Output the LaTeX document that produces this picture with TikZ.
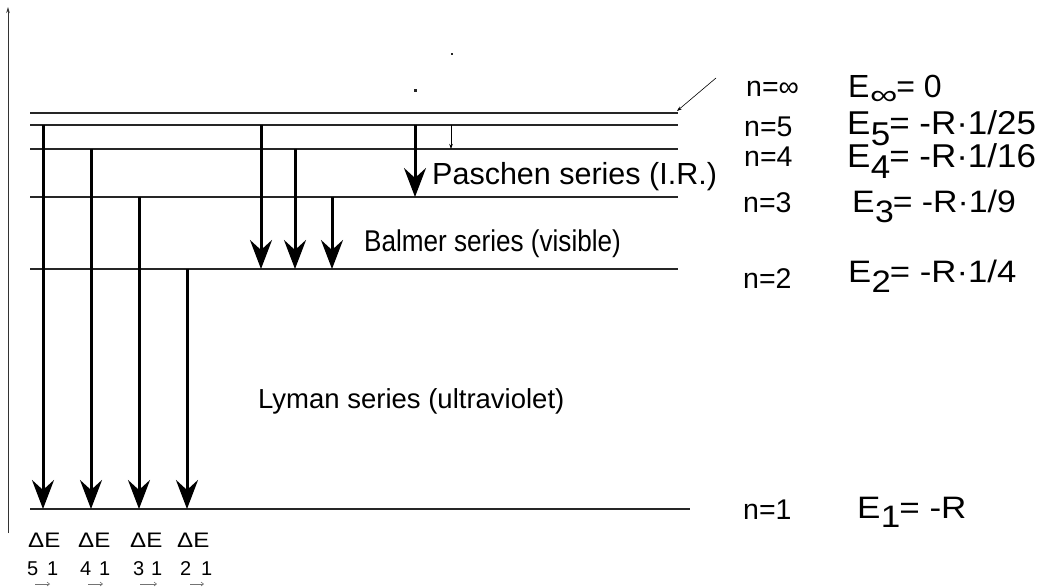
\documentclass[tikz,border=0pt]{standalone}
\usepackage{fontspec}
\setmainfont{Liberation Sans}
\usetikzlibrary{arrows.meta}
\newcommand{\fsz}[1]{\fontsize{#1}{#1}\selectfont}
\newcommand{\Esub}[1]{E\kern0.01em\raisebox{-0.32em}{#1}\kern-0.03em}
\begin{document}
\begin{tikzpicture}[x=1pt,y=-1pt,
  level/.style={line width=1.3pt, black!85},
  bigarrow/.style={line width=3pt, -{Stealth[length=29pt,width=22pt,inset=10pt]}},
  thinarrow/.style={line width=0.6pt, -{Stealth[length=5pt,width=3.5pt]}},
  axisline/.style={line width=0.9pt, black!80, -{Stealth[length=6pt,width=3.5pt]}},
  subarrow/.style={line width=0.6pt, black!55, -{Straight Barb[length=2.5pt,width=4pt]}},
  lbl/.style={anchor=base west, inner sep=0pt},
  series/.style={lbl, font=\fsz{30}},
  nlab/.style={lbl, font=\fsz{28.5}},
  elab/.style={lbl, font=\fsz{31}},
  dlab/.style={lbl, font=\fsz{21}},
  sublab/.style={lbl, font=\fsz{20}},
  dotmark/.style={fill=black!85}]
\useasboundingbox (0,0) rectangle (1042,588);

% vertical energy axis
\coordinate (axbot) at (8,533);
\coordinate (axtop) at (8,7);
\draw[axisline] (axbot) -- (axtop);

% energy levels
\foreach \n/\y/\r in {inf/113/678, 5/125/678, 4/149/678, 3/197/678, 2/269/678, 1/509/690}{
  \coordinate (L\n l) at (30,\y);
  \coordinate (L\n r) at (\r,\y);
  \draw[level] (L\n l) -- (L\n r);
}

% transitions
\foreach \nm/\x/\ys/\ye in {ly5/43/125/509, ly4/91/149/509, ly3/139/197/509, ly2/187/269/509,
                            ba5/261/125/269, ba4/295/149/269, ba3/332/197/269,
                            pa5/415/125/197}{
  \coordinate (\nm s) at (\x,\ys);
  \coordinate (\nm e) at (\x,\ye);
  \draw[bigarrow] (\nm s) -- (\nm e);
}
\coordinate (p54s) at (451,125);
\coordinate (p54e) at (451,149);
\draw[thinarrow] (p54s) -- (p54e);

% pointer to n = infinity level
\coordinate (ptrs) at (716,78);
\coordinate (ptre) at (677,111);
\draw[thinarrow] (ptrs) -- (ptre);

% stray dots
\fill[dotmark] (414,89) rectangle (417,92);
\fill[dotmark] (451,53.5) rectangle (453,55);

% series labels
\node[series, font=\fsz{30.5}] (pasch) at (432,185) {Paschen series (I.R.)};
\node[series, font=\fsz{30}] (balm) at (364,252) {\scalebox{0.87}[1]{Balmer series (visible)}};
\node[series, font=\fsz{27.5}] (lyman) at (258,408) {Lyman series (ultraviolet)};

% n labels
\node[nlab] (ninf) at (746,97) {n=∞};
\node[nlab] (n5) at (744,137) {n=5};
\node[nlab] (n4) at (744,167) {n=4};
\node[nlab] (n3) at (743,213) {n=3};
\node[nlab] (n2) at (743,288) {n=2};
\node[nlab] (n1) at (743,519) {n=1};

% energy labels
\node[elab, font=\fsz{32}] (einf) at (848,98) {E\kern0.02em\raisebox{-0.2em}{\scalebox{1.6}[1.15]{\fsz{24}∞}}\kern-0.04em= 0};
\node[elab, font=\fsz{33}] (e5) at (847,135) {\scalebox{1.06}[1]{\Esub{5}= -R·1/25}};
\node[elab, font=\fsz{33}] (e4) at (847,168) {\scalebox{1.06}[1]{\Esub{4}= -R·1/16}};
\node[elab] (e3) at (852,213) {\scalebox{1.09}[1]{\Esub{3}= -R·1/9}};
\node[elab] (e2) at (848,283) {\scalebox{1.12}[1]{\Esub{2}= -R·1/4}};
\node[elab] (e1) at (857,518) {\scalebox{1.13}[1]{\Esub{1}= -R}};

% Delta E labels
\foreach \nm/\x/\a/\ax/\b/\bx/\sx/\ex in {d51/28/5/27/1/47/35/50, d41/78/4/80/1/99/88/103,
                                          d31/130/3/133/1/151/140/157, d21/177/2/180/1/201/190/204}{
  \node[dlab] (\nm) at (\x,547) {\scalebox{1.15}[1]{ΔE}};
  \node[sublab] (\nm a) at (\ax,575) {\a};
  \node[sublab] (\nm b) at (\bx,575) {\b};
  \coordinate (\nm s) at (\sx,584);
  \coordinate (\nm e) at (\ex,584);
  \draw[subarrow] (\nm s) -- (\nm e);
}
\end{tikzpicture}
\end{document}
